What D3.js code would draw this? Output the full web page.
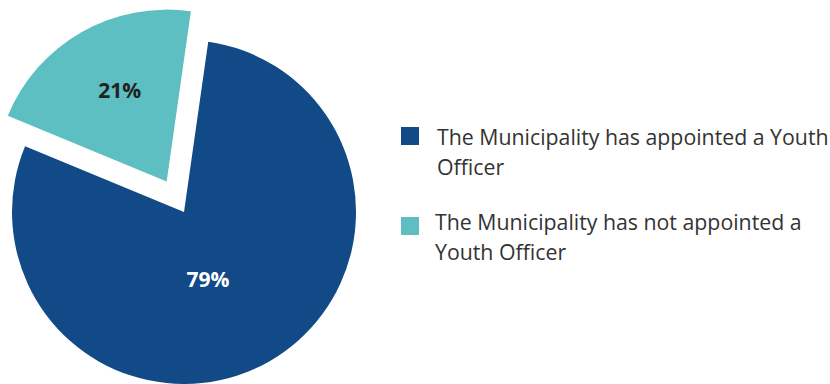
<!DOCTYPE html>
<html>
<head>
<meta charset="utf-8">
<script src="https://cdn.jsdelivr.net/npm/d3@7"></script>
<style>
  html, body { margin: 0; padding: 0; background: #fff; }
  svg { display: block; }
</style>
</head>
<body>
<svg id="chart" width="830" height="384"></svg>
<script>
// Survey answers: has the municipality appointed a youth officer?
const categories = [
  "The Municipality has appointed a Youth Officer",
  "The Municipality has not appointed a Youth Officer"
];
const values = [79, 21];
const colors = ["#124a87", "#5ebfc2"];
const labelColors = ["#ffffff", "#222222"];
const legendLines = [
  ["The Municipality has appointed a Youth", "Officer"],
  ["The Municipality has not appointed a", "Youth Officer"]
];

const svg = d3.select("#chart");
const font = "'Open Sans', 'Noto Sans', sans-serif";

const cx = 184, cy = 212, radius = 172, explode = 35;
const startDeg = 8.1;

const pie = d3.pie()
  .sort(null)
  .value(d => d)
  .startAngle(startDeg * Math.PI / 180)
  .endAngle((startDeg + 360) * Math.PI / 180);

const arc = d3.arc().innerRadius(0).outerRadius(radius);

// label anchor (baseline, centred) relative to each slice's own apex
const labelOffsets = [[24, 75], [-47, -84]];

const slices = pie(values);
const g = svg.append("g").attr("transform", `translate(${cx},${cy})`);

slices.forEach((s, i) => {
  const mid = (s.startAngle + s.endAngle) / 2;
  const off = i === 1 ? explode : 0;
  const dx = Math.sin(mid) * off, dy = -Math.cos(mid) * off;
  const sg = g.append("g").attr("transform", `translate(${dx},${dy})`);
  sg.append("path").attr("d", arc(s)).attr("fill", colors[i]);

  sg.append("text")
    .attr("x", labelOffsets[i][0]).attr("y", labelOffsets[i][1])
    .attr("text-anchor", "middle")
    .attr("font-family", font)
    .attr("font-weight", 700)
    .attr("font-size", 21)
    .attr("fill", labelColors[i])
    .text(values[i] + "%");
});

// legend
const legend = svg.append("g");
const legendRows = [
  { y: 127, textX: 437, base: 145 },
  { y: 217, textX: 435, base: 230 }
];
categories.forEach((c, i) => {
  const r = legendRows[i];
  legend.append("rect")
    .attr("x", 401).attr("y", r.y)
    .attr("width", 18).attr("height", 18)
    .attr("fill", colors[i]);
  const t = legend.append("text")
    .attr("font-family", font)
    .attr("font-size", 21.3)
    .attr("fill", "#333333");
  legendLines[i].forEach((line, j) => {
    t.append("tspan")
      .attr("x", r.textX)
      .attr("y", r.base + j * 29.5)
      .text(line);
  });
});
</script>
</body>
</html>
